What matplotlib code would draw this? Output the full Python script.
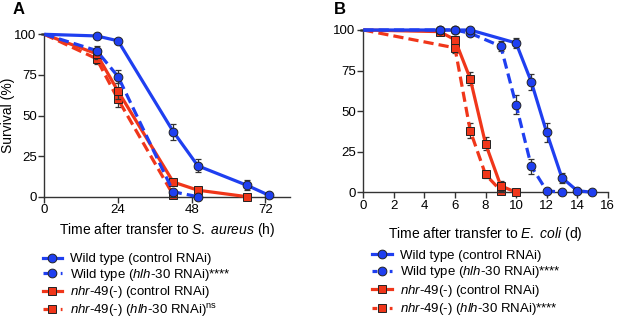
import matplotlib
matplotlib.use("Agg")
import matplotlib.pyplot as plt
from matplotlib.lines import Line2D

plt.rcParams['font.family'] = ['Liberation Sans', 'DejaVu Sans']
plt.rcParams['mathtext.fontset'] = 'custom'
plt.rcParams['mathtext.rm'] = 'Liberation Sans'
plt.rcParams['mathtext.it'] = 'Liberation Sans:italic'
plt.rcParams['mathtext.bf'] = 'Liberation Sans:bold'

BLUE = "#1f3ff0"
RED = "#f0361a"
EDGE = "#222222"

# ---------------- Panel A data (S. aureus, hours) ----------------
a_wt_ctrl_x = [0, 17, 24, 42, 50, 66, 73]
a_wt_ctrl_y = [100, 99, 96, 40, 19, 7, 1]
a_wt_ctrl_e = [0, 0, 1, 5, 4, 3, 0]

a_wt_hlh_x = [0, 17, 24, 42, 50]
a_wt_hlh_y = [100, 90, 74, 3, 0]
a_wt_hlh_e = [0, 3, 4, 1, 0]

a_nhr_ctrl_x = [0, 17, 24, 42, 50, 66]
a_nhr_ctrl_y = [100, 88, 65, 9, 4, 0]
a_nhr_ctrl_e = [0, 3, 5, 1, 1, 0]

a_nhr_hlh_x = [0, 17, 24, 42]
a_nhr_hlh_y = [100, 85, 60, 1]
a_nhr_hlh_e = [0, 3, 5, 0]

# ---------------- Panel B data (E. coli, days) ----------------
b_wt_ctrl_x = [0, 5, 6, 7, 10, 11, 12, 13, 14, 15]
b_wt_ctrl_y = [100, 100, 100, 100, 92, 68, 37, 9, 1, 0]
b_wt_ctrl_e = [0, 0, 0, 0, 3, 5, 6, 3, 0, 0]

b_wt_hlh_x = [0, 5, 6, 7, 9, 10, 11, 12, 13]
b_wt_hlh_y = [100, 100, 100, 98, 90, 54, 16, 1, 0]
b_wt_hlh_e = [0, 0, 0, 1, 3, 6, 4.5, 0, 0]

b_nhr_ctrl_x = [0, 5, 6, 7, 8, 9, 10]
b_nhr_ctrl_y = [100, 99, 94, 70, 30, 4, 0]
b_nhr_ctrl_e = [0, 0, 2, 4, 4, 3, 0]

b_nhr_hlh_x = [0, 6, 7, 8, 9]
b_nhr_hlh_y = [100, 89, 38, 11, 1]
b_nhr_hlh_e = [0, 3, 4.5, 2, 0]

xticks_a = [0, 24, 48, 72]
xticks_b = [0, 2, 4, 6, 8, 10, 12, 14, 16]
yticks = [0, 25, 50, 75, 100]

labels_a = [
    "Wild type (control RNAi)",
    r"Wild type ($\mathit{hlh}$-$\mathit{30}$ RNAi)****",
    r"$\mathit{nhr}$-$\mathit{49(}$-$\mathit{)}$ (control RNAi)",
    r"$\mathit{nhr}$-$\mathit{49(}$-$\mathit{)}$ ($\mathit{hlh}$-$\mathit{30}$ RNAi)$^{\rm ns}$",
]
labels_b = [
    "Wild type (control RNAi)",
    r"Wild type ($\mathit{hlh}$-$\mathit{30}$ RNAi)****",
    r"$\mathit{nhr}$-$\mathit{49(}$-$\mathit{)}$ (control RNAi)",
    r"$\mathit{nhr}$-$\mathit{49(}$-$\mathit{)}$ ($\mathit{hlh}$-$\mathit{30}$ RNAi)****",
]

W, H = 617, 320
fig = plt.figure(figsize=(W / 100, H / 100), dpi=100)


def px_axes(left, top, right, bottom):
    return fig.add_axes([left / W, 1 - bottom / H, (right - left) / W, (bottom - top) / H])


LW = 2.3
MS = 6.3
DASH = (3.2, 1.6)


def draw_series(ax, x, y, e, color, marker, dashed, z):
    ls = (0, DASH) if dashed else '-'
    ax.errorbar(x, y, yerr=e, fmt='none', ecolor='#333333', elinewidth=0.9,
                capsize=2.5, capthick=0.9, zorder=z, clip_on=False)
    ax.plot(x, y, linestyle=ls, color=color, linewidth=LW, zorder=z + 0.1,
            clip_on=False, solid_capstyle='butt', dash_capstyle='butt')
    ax.plot(x[1:], y[1:], linestyle='none', marker=marker, markersize=MS,
            markerfacecolor=color, markeredgecolor=EDGE, markeredgewidth=0.7,
            zorder=z + 0.2, clip_on=False)


def style_axes(ax, xmax, xticks):
    ax.set_xlim(0, xmax)
    ax.set_ylim(0, 100)
    ax.set_xticks(xticks)
    ax.set_yticks(yticks)
    for s in ['top', 'right']:
        ax.spines[s].set_visible(False)
    for s in ['left', 'bottom']:
        ax.spines[s].set_linewidth(1.0)
        ax.spines[s].set_color('#333333')
    ax.tick_params(direction='out', length=4, width=1.0, color='#333333',
                   labelsize=9.5, pad=1.5)
    ax.patch.set_alpha(0)


def legend_handles():
    return [
        Line2D([], [], color=BLUE, lw=LW, marker='o', markersize=MS,
               markerfacecolor=BLUE, markeredgecolor=EDGE, markeredgewidth=0.7),
        Line2D([], [], color=BLUE, lw=LW, linestyle=(0, (1.5, 1.2)), marker='o', markersize=MS,
               markerfacecolor=BLUE, markeredgecolor=EDGE, markeredgewidth=0.7),
        Line2D([], [], color=RED, lw=LW, marker='s', markersize=MS,
               markerfacecolor=RED, markeredgecolor=EDGE, markeredgewidth=0.7),
        Line2D([], [], color=RED, lw=LW, linestyle=(0, (1.5, 1.2)), marker='s', markersize=MS,
               markerfacecolor=RED, markeredgecolor=EDGE, markeredgewidth=0.7),
    ]


LEG_KW = dict(loc='upper left', frameon=False, fontsize=9.5, handlelength=1.5,
              handletextpad=0.6, borderpad=0, borderaxespad=0)

# ---------------- Panel A ----------------
axA = px_axes(44.3, 34.3, 290, 196.7)
draw_series(axA, a_nhr_hlh_x, a_nhr_hlh_y, a_nhr_hlh_e, RED, 's', True, 2)
draw_series(axA, a_nhr_ctrl_x, a_nhr_ctrl_y, a_nhr_ctrl_e, RED, 's', False, 3)
draw_series(axA, a_wt_hlh_x, a_wt_hlh_y, a_wt_hlh_e, BLUE, 'o', True, 4)
draw_series(axA, a_wt_ctrl_x, a_wt_ctrl_y, a_wt_ctrl_e, BLUE, 'o', False, 5)
style_axes(axA, 80, xticks_a)
axA.set_ylabel("Survival (%)", fontsize=10)
axA.yaxis.set_label_coords(-0.119, 0.5)
axA.set_xlabel(r"Time after transfer to $\mathit{S.\ aureus}$ (h)", fontsize=10)
axA.xaxis.set_label_coords(0.5, -0.15)
fig.text(13 / W, 1 - 10 / H, "A", fontsize=12, fontweight='bold', va='center', ha='left')
axA.legend(legend_handles(), labels_a, bbox_to_anchor=(42.5 / W, 1 - 253 / H),
           bbox_transform=fig.transFigure, labelspacing=0.12, **LEG_KW)

# ---------------- Panel B ----------------
axB = px_axes(363.3, 30, 607.7, 192.3)
draw_series(axB, b_nhr_hlh_x, b_nhr_hlh_y, b_nhr_hlh_e, RED, 's', True, 2)
draw_series(axB, b_nhr_ctrl_x, b_nhr_ctrl_y, b_nhr_ctrl_e, RED, 's', False, 3)
draw_series(axB, b_wt_hlh_x, b_wt_hlh_y, b_wt_hlh_e, BLUE, 'o', True, 4)
draw_series(axB, b_wt_ctrl_x, b_wt_ctrl_y, b_wt_ctrl_e, BLUE, 'o', False, 5)
style_axes(axB, 16, xticks_b)
axB.set_xlabel(r"Time after transfer to $\mathit{E.\ coli}$ (d)", fontsize=10)
axB.xaxis.set_label_coords(0.5, -0.2)
fig.text(334 / W, 1 - 10 / H, "B", fontsize=12, fontweight='bold', va='center', ha='left')
axB.legend(legend_handles(), labels_b, bbox_to_anchor=(372 / W, 1 - 249.5 / H),
           bbox_transform=fig.transFigure, labelspacing=0.19, **LEG_KW)

fig.savefig("out.png", dpi=100)
